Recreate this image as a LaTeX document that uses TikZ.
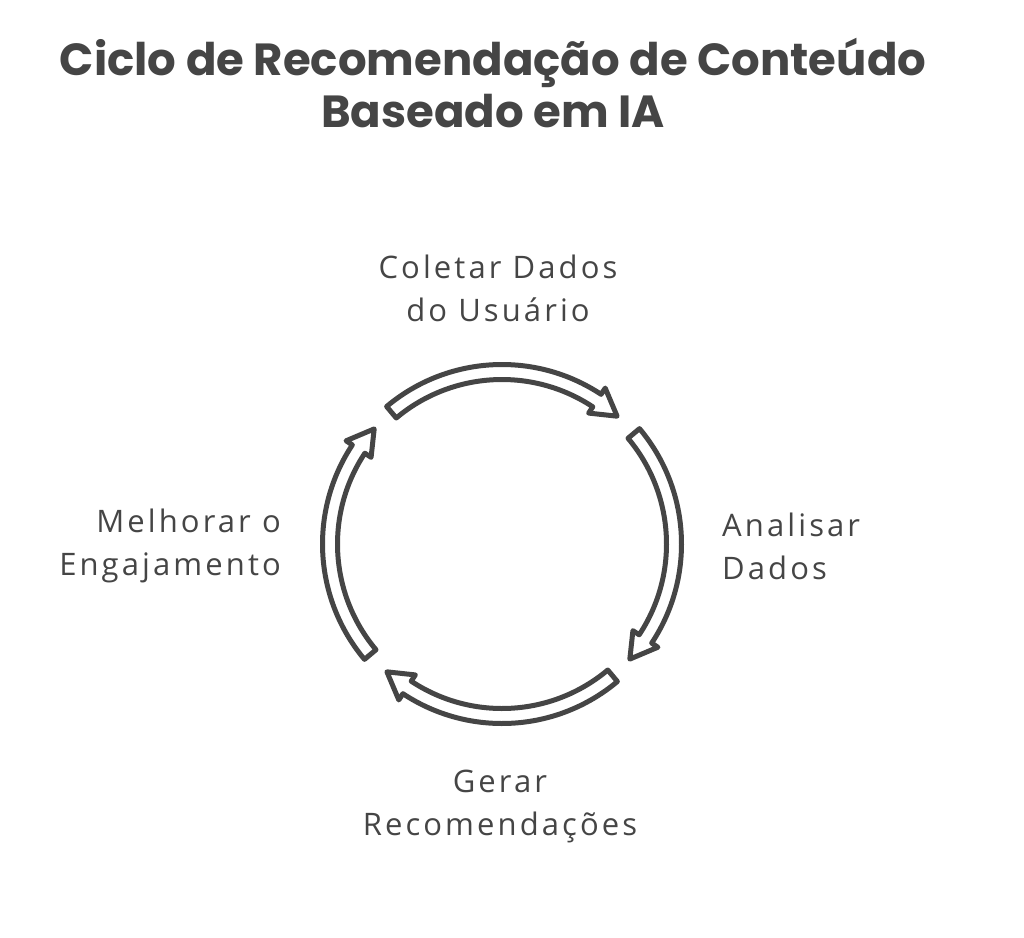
\documentclass[tikz,border=0pt]{standalone}
\usepackage{fontspec}
\setmainfont{Open Sans}[LetterSpace=10]
\newfontfamily\titlefont{Poppins}
\definecolor{ink}{HTML}{454545}
\tikzset{
  arr/.style={draw=ink, line width=5pt, line join=round, fill=white},
  lbl/.style={text=ink, font=\fontsize{31}{43}\selectfont, inner sep=0pt},
  ttl/.style={text=ink, font=\titlefont\bfseries\fontsize{45}{52}\selectfont, inner sep=0pt, align=center}
}
\newcommand\cycarrow[2]{%
  \pgfmathsetmacro\thb{#2+8.5}%
  \draw[arr] (#1:179.5) arc[start angle=#1, end angle=\thb, radius=179.5]
    -- (\thb:187) -- (#2:172) -- (\thb:157) -- (\thb:164.5)
    arc[start angle=\thb, end angle=#1, radius=164.5] -- cycle;}
\begin{document}
\begin{tikzpicture}[x=1pt, y=1pt]
\useasboundingbox (0,-937) rectangle (1024,0);
\node[ttl] (title) at (493,-83) {Ciclo de Recomendação de Conteúdo\\Baseado em IA};
\node[lbl, align=center] (collect) at (498,-288) {Coletar Dados\\do Usuário};
\node[lbl, align=left, anchor=west] (analyze) at (722,-546) {Analisar\\Dados};
\node[lbl, align=center] (generate) at (500,-806) {Gerar\\Recomendações};
\node[lbl, align=right, anchor=east] (improve) at (281,-546) {Melhorar o\\Engajamento};
\begin{scope}[shift={(502,-544)}]
  \cycarrow{130}{48}
  \cycarrow{40}{-42}
  \cycarrow{-50}{-132}
  \cycarrow{-140}{-222}
\end{scope}
\end{tikzpicture}
\end{document}
